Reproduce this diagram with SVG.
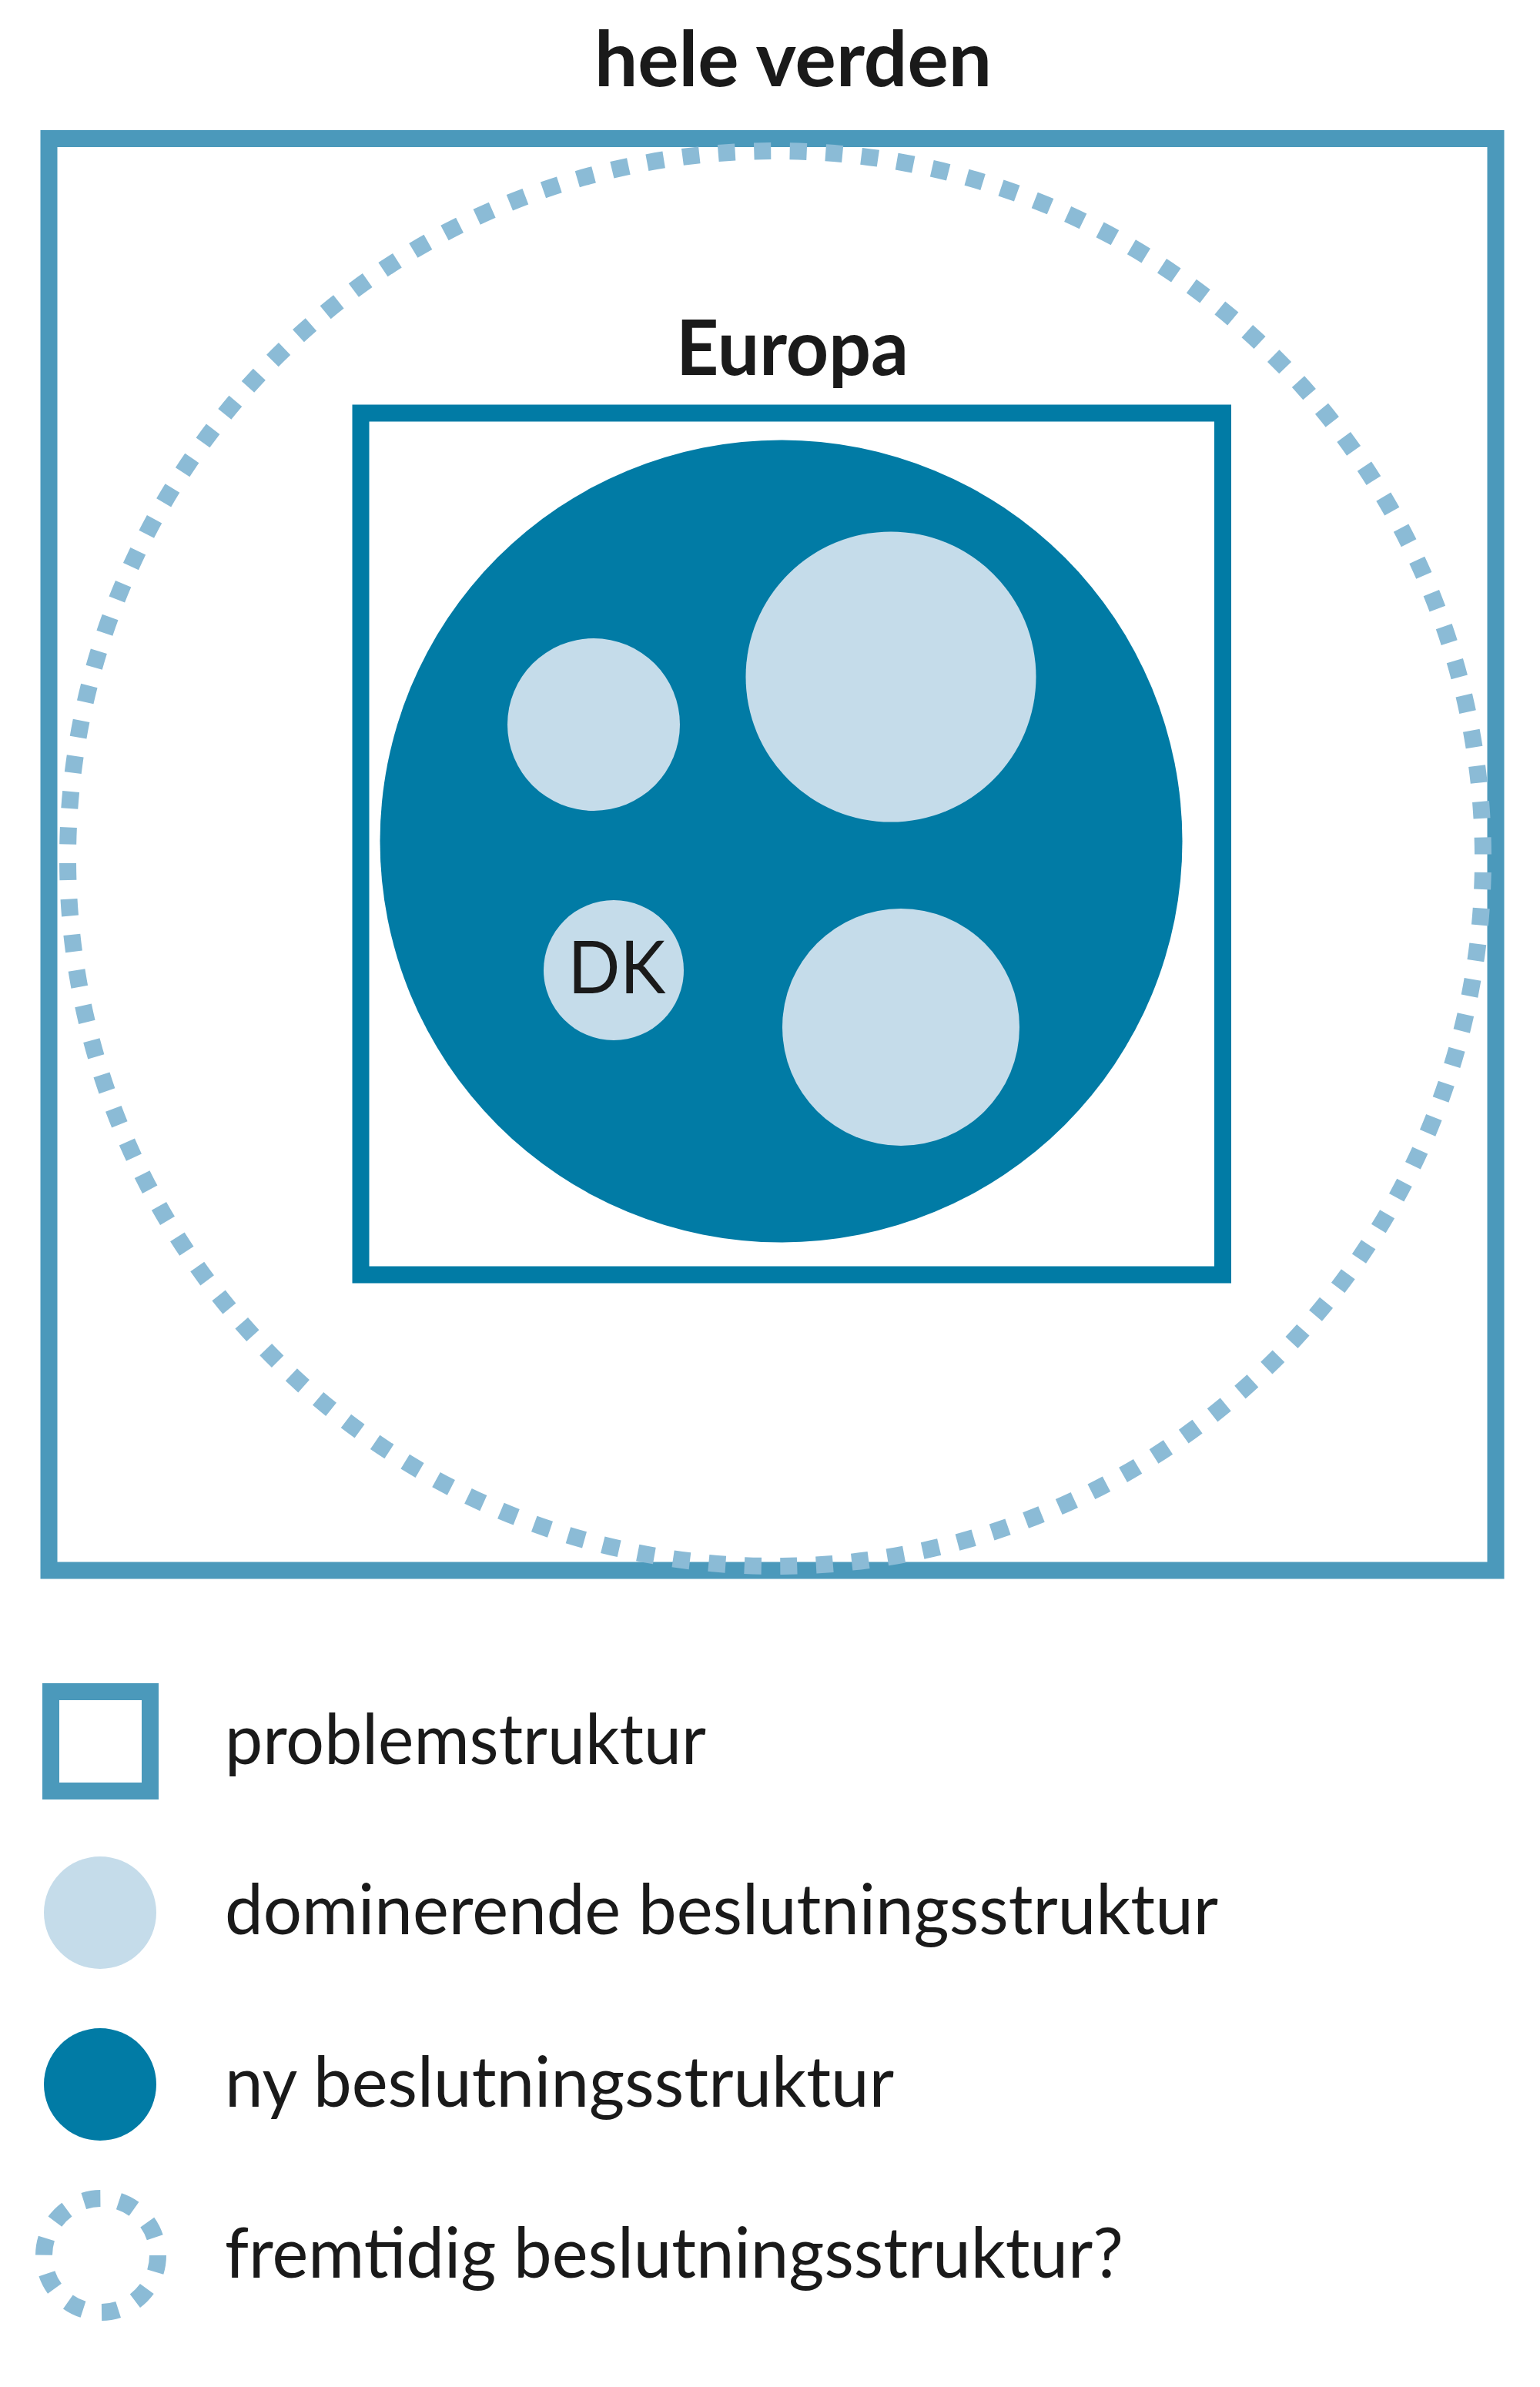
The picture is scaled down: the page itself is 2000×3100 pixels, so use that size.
<svg xmlns="http://www.w3.org/2000/svg" width="2000" height="3100" viewBox="0 0 2000 3100">
  <style>
    .frame { fill: none; stroke: #4b99bb; stroke-width: 22; }
    .europe { fill: none; stroke: #017ba5; stroke-width: 22; }
    .dark { fill: #017ba5; }
    .light { fill: #c5dcea; }
    .dots { fill: none; stroke: #8bbbd6; stroke-width: 22; }
    .title { font-family: Lato, "Open Sans", "Liberation Sans", sans-serif; font-weight: bold; font-size: 100px; fill: #1a1a1a; text-anchor: middle; }
    .label { font-family: Lato, "Open Sans", "Liberation Sans", sans-serif; font-size: 92px; fill: #1a1a1a; }
  </style>
  <rect width="2000" height="3100" fill="#ffffff"/>

  <g id="world">
    <rect class="frame" x="63.5" y="180" width="1879" height="1859.5"/>
    <text class="title" x="1030" y="112" textLength="516" lengthAdjust="spacingAndGlyphs">hele verden</text>
  </g>

  <g id="future-structure">
    <circle class="dots" cx="1007" cy="1115" r="919" stroke-dasharray="22 24.57" stroke-dashoffset="-18"/>
  </g>

  <g id="europe">
    <rect class="europe" x="468.5" y="536.5" width="1119.5" height="1119"/>
    <text class="title" x="1029" y="487" textLength="302" lengthAdjust="spacingAndGlyphs">Europa</text>
  </g>

  <g id="new-structure">
    <circle class="dark" cx="1014.5" cy="1092.5" r="521"/>
  </g>

  <g id="dominant-1">
    <circle class="light" cx="771" cy="941" r="112"/>
  </g>
  <g id="dominant-2">
    <circle class="light" cx="1157" cy="879" r="188.5"/>
  </g>
  <g id="dominant-3">
    <circle class="light" cx="1170" cy="1334" r="154"/>
  </g>
  <g id="dk">
    <circle class="light" cx="797" cy="1260" r="91"/>
    <text x="801" y="1290" font-family="Lato, 'Open Sans', 'Liberation Sans', sans-serif" font-size="95" fill="#1a1a1a" text-anchor="middle" textLength="127" lengthAdjust="spacingAndGlyphs">DK</text>
  </g>

  <g id="connectors"></g>

  <g id="legend">
    <g id="legend-problem">
      <rect class="frame" x="66" y="2197" width="129" height="129"/>
      <text class="label" x="292" y="2291" textLength="625" lengthAdjust="spacingAndGlyphs">problemstruktur</text>
    </g>
    <g id="legend-dominant">
      <circle class="light" cx="130" cy="2484" r="73"/>
      <text class="label" x="292" y="2512" textLength="1290" lengthAdjust="spacingAndGlyphs">dominerende beslutningsstruktur</text>
    </g>
    <g id="legend-new">
      <circle class="dark" cx="130" cy="2707" r="73"/>
      <text class="label" x="292" y="2736" textLength="869" lengthAdjust="spacingAndGlyphs">ny beslutningsstruktur</text>
    </g>
    <g id="legend-future">
      <circle class="dots" cx="131" cy="2929" r="74" stroke-dasharray="22 24.5"/>
      <text class="label" x="292" y="2958" textLength="1167" lengthAdjust="spacingAndGlyphs">fremtidig beslutningsstruktur?</text>
    </g>
  </g>
</svg>
